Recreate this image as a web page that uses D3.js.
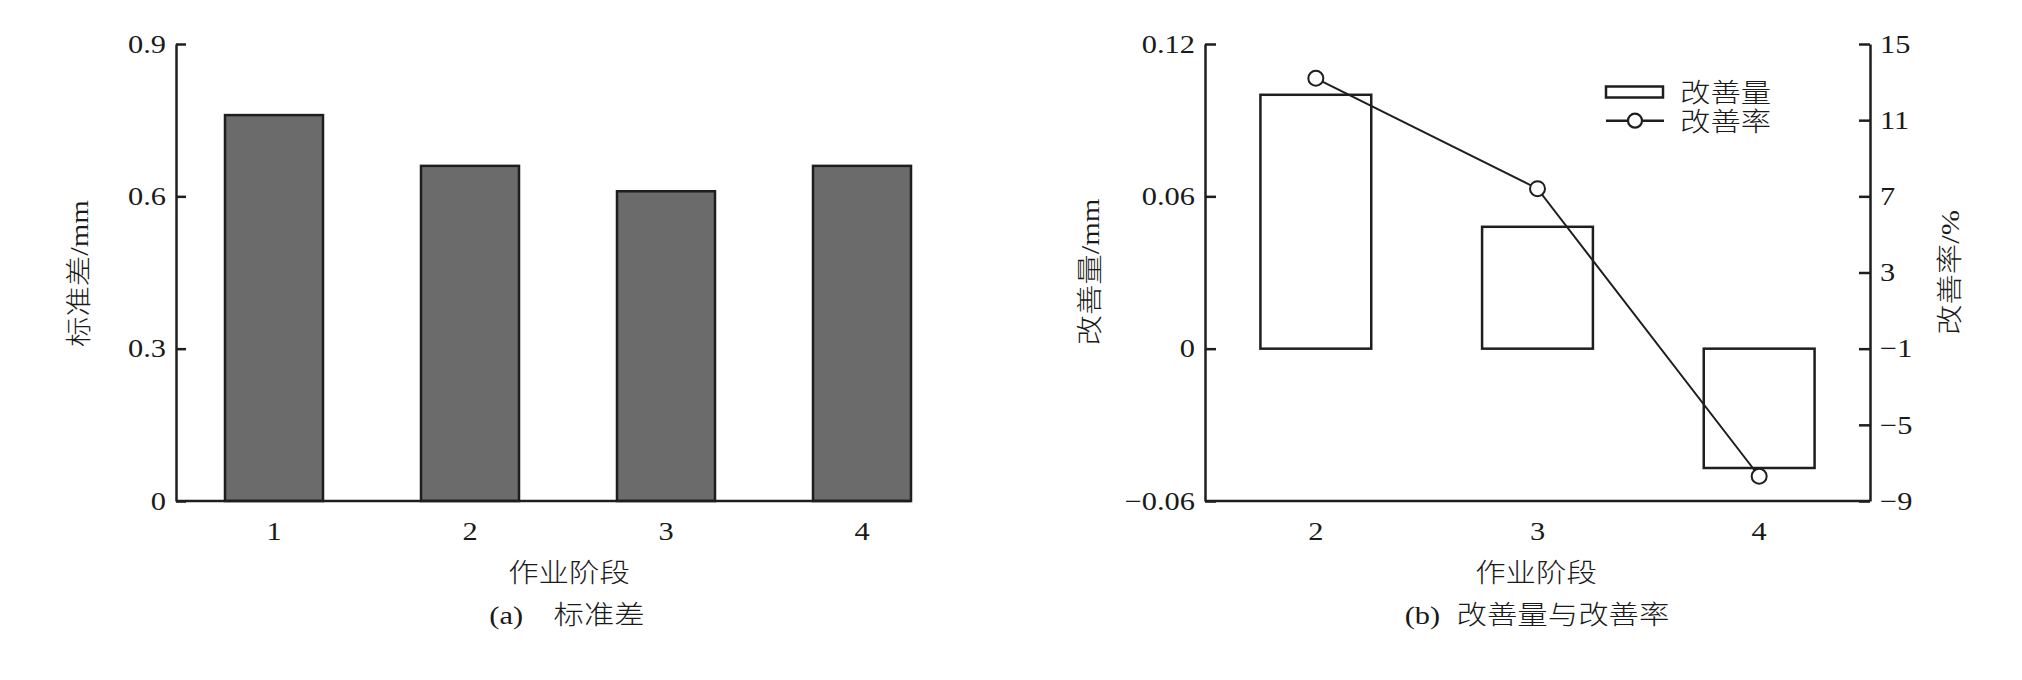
<!DOCTYPE html>
<html><head><meta charset="utf-8">
<script src="https://cdn.jsdelivr.net/npm/d3@7"></script>
<style>
html,body{margin:0;padding:0;background:#fff;}
text{font-family:"Liberation Serif","Noto Sans CJK SC",serif;fill:#1a1a1a;font-weight:300;}
</style></head>
<body>
<svg id="c" width="2022" height="680"></svg>
<script>
// ---- data ----
const stageCats = ["1", "2", "3", "4"];
const stdValues = [0.76, 0.66, 0.61, 0.66];
const stdTicks = [0, 0.3, 0.6, 0.9];

const improveCats = ["2", "3", "4"];
const improveAmount = [0.100, 0.048, -0.047];
const improveRate = [13.2, 7.4, -7.7];
const amountTicks = [-0.06, 0, 0.06, 0.12];
const rateTicks = [-9, -5, -1, 3, 7, 11, 15];

const legendLabels = ["改善量", "改善率"];
const xTitle = "作业阶段";

// ---- setup ----
const SX = 1.17, FS = 26, INK = "#1e1e1e";
const svg = d3.select("#c");
svg.append("rect").attr("width", 2022).attr("height", 680).attr("fill", "#fff");

function txt(parent, cx, cy, str, anchor = "middle", rotate = 0) {
  const g = parent.append("g").attr("transform", `translate(${cx},${cy}) rotate(${rotate})`);
  const t = g.append("text").attr("transform", `scale(${SX},1)`)
    .attr("text-anchor", anchor).attr("y", 0.36 * FS).style("font-size", FS + "px");
  if (Array.isArray(str)) {
    str.forEach(p => t.append("tspan").attr("dx", p.dx || 0).text(p.t));
  } else t.text(str);
  return t;
}
function styleAxis(g) {
  g.selectAll("path,line").attr("stroke", INK).attr("stroke-width", 2.5);
  g.selectAll("text").style("font-size", FS + "px").attr("fill", "#1a1a1a")
    .style("font-family", '"Liberation Serif",serif')
    .each(function () {
      const t = d3.select(this);
      const x = +t.attr("x") || 0;
      t.attr("x", x / SX).attr("transform", `scale(${SX},1)`);
    });
}
const fmt = d => String(d).replace("-", "\u2212");

const Y0 = 501, Y1 = 44;

// ================= chart (a) =================
const xa = d3.scaleBand().domain(stageCats).range([176, 960]).paddingInner(0.5).paddingOuter(0.25);
const ya = d3.scaleLinear().domain([0, 0.9]).range([Y0, Y1]);
const ga = svg.append("g");

ga.selectAll("rect.bar").data(stdValues).join("rect").attr("class", "bar")
  .attr("x", (d, i) => xa(stageCats[i])).attr("width", xa.bandwidth())
  .attr("y", d => ya(d)).attr("height", d => ya(0) - ya(d))
  .attr("fill", "#6b6b6b").attr("stroke", INK).attr("stroke-width", 2.5);

const axYa = ga.append("g").attr("transform", `translate(${xa.range()[0]},0)`)
  .call(d3.axisLeft(ya).tickValues(stdTicks).tickFormat(fmt).tickSize(-10).tickSizeOuter(0).tickPadding(10));
styleAxis(axYa);

const axXa = ga.append("g").attr("transform", `translate(0,${Y0})`)
  .call(d3.axisBottom(xa).tickSize(0).tickPadding(21));
axXa.select(".domain").remove();
styleAxis(axXa);
ga.append("line").attr("x1", xa.range()[0]).attr("x2", xa(stageCats[stageCats.length - 1]) + xa.bandwidth())
  .attr("y1", Y0).attr("y2", Y0).attr("stroke", INK).attr("stroke-width", 2.5);

txt(ga, 79, 273.5, "标准差/mm", "middle", -90);
txt(ga, 569, 573, xTitle);
txt(ga, 567, 615, [{t: "(a)"}, {t: "标准差", dx: 26}]);

// ================= chart (b) =================
const xb = d3.scaleBand().domain(improveCats).range([1205, 1870]).paddingInner(0.5).paddingOuter(0.25);
const ybL = d3.scaleLinear().domain([-0.06, 0.12]).range([Y0, Y1]);
const ybR = d3.scaleLinear().domain([-9, 15]).range([Y0, Y1]);
const gb = svg.append("g");

gb.selectAll("rect.bar").data(improveAmount).join("rect").attr("class", "bar")
  .attr("x", (d, i) => xb(improveCats[i])).attr("width", xb.bandwidth())
  .attr("y", d => ybL(Math.max(0, d))).attr("height", d => Math.abs(ybL(d) - ybL(0)))
  .attr("fill", "#fff").attr("stroke", INK).attr("stroke-width", 2.5);

const line = d3.line().x((d, i) => xb(improveCats[i]) + xb.bandwidth() / 2).y(d => ybR(d));
gb.append("path").datum(improveRate).attr("d", line).attr("fill", "none")
  .attr("stroke", INK).attr("stroke-width", 2);
gb.selectAll("circle.pt").data(improveRate).join("circle").attr("class", "pt")
  .attr("cx", (d, i) => xb(improveCats[i]) + xb.bandwidth() / 2).attr("cy", d => ybR(d))
  .attr("r", 7.5).attr("fill", "#fff").attr("stroke", INK).attr("stroke-width", 2);

const axYbL = gb.append("g").attr("transform", `translate(${xb.range()[0]},0)`)
  .call(d3.axisLeft(ybL).tickValues(amountTicks).tickFormat(fmt).tickSize(-11).tickSizeOuter(0).tickPadding(10));
styleAxis(axYbL);
const axYbR = gb.append("g").attr("transform", `translate(${xb.range()[1]},0)`)
  .call(d3.axisRight(ybR).tickValues(rateTicks).tickFormat(fmt).tickSize(-11).tickSizeOuter(0).tickPadding(10));
styleAxis(axYbR);
const axXb = gb.append("g").attr("transform", `translate(0,${Y0})`)
  .call(d3.axisBottom(xb).tickSize(0).tickPadding(21));
axXb.select(".domain").remove();
styleAxis(axXb);
gb.append("line").attr("x1", xb.range()[0]).attr("x2", xb.range()[1])
  .attr("y1", Y0).attr("y2", Y0).attr("stroke", INK).attr("stroke-width", 2.5);

txt(gb, 1090, 272, "改善量/mm", "middle", -90);
txt(gb, 1950, 272.5, "改善率/%", "middle", -90);
txt(gb, 1536, 573, xTitle);
txt(gb, 1537, 615, [{t: "(b)"}, {t: "改善量与改善率", dx: 14}]);

// legend
const lg = gb.append("g");
lg.append("rect").attr("x", 1606).attr("y", 86.5).attr("width", 57).attr("height", 11)
  .attr("fill", "#fff").attr("stroke", INK).attr("stroke-width", 2.5);
lg.append("line").attr("x1", 1606).attr("x2", 1664).attr("y1", 120.7).attr("y2", 120.7)
  .attr("stroke", INK).attr("stroke-width", 2.5);
lg.append("circle").attr("cx", 1635).attr("cy", 120.7).attr("r", 7)
  .attr("fill", "#fff").attr("stroke", INK).attr("stroke-width", 2.2);
txt(lg, 1680, 92.3, legendLabels[0], "start");
txt(lg, 1680, 121.5, legendLabels[1], "start");
</script>
</body></html>
